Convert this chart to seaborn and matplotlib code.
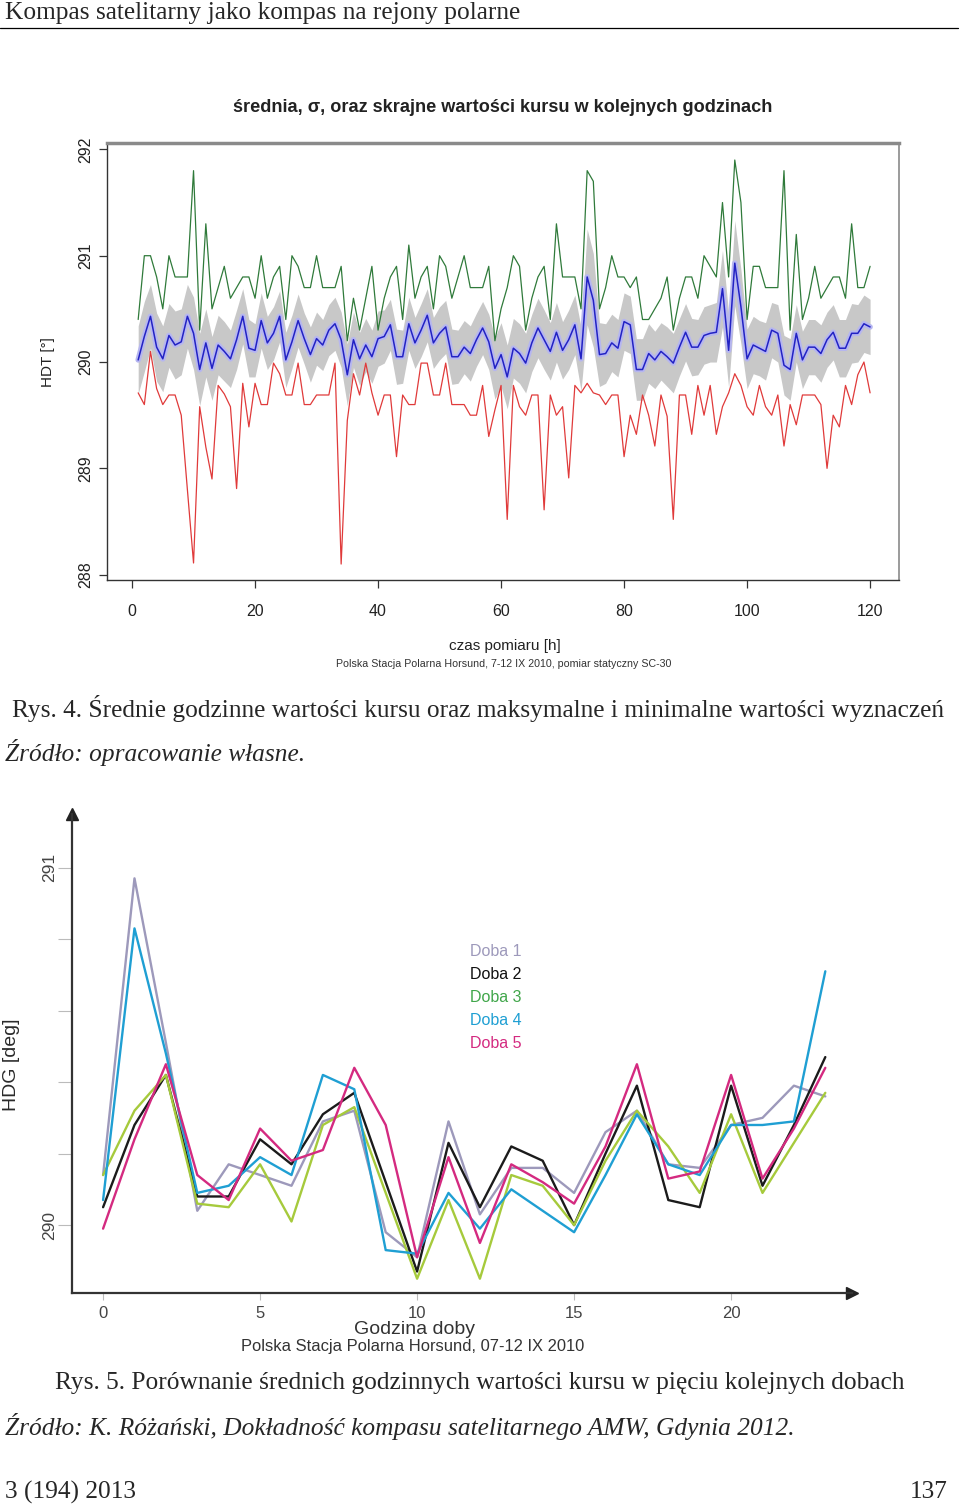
import numpy as np
import pandas as pd
import matplotlib
matplotlib.use("Agg")
import matplotlib.pyplot as plt
import seaborn as sns

W, H = 960, 1506

# --- Rys. 4: godzinne statystyki kursu (HDT) ---
hours = list(range(1, 121))
hdt_max = [
    290.4, 291.0, 291.0, 290.8, 290.5, 291.0, 290.8, 290.8, 290.8, 291.8,
    290.3, 291.3, 290.5, 290.7, 290.9, 290.6, 290.7, 290.8, 290.8, 290.6,
    291.0, 290.6, 290.8, 290.9, 290.4, 291.0, 290.9, 290.7, 290.7, 291.0,
    290.7, 290.7, 290.7, 290.9, 290.2, 290.6, 290.3, 290.6, 290.9, 290.3,
    290.6, 290.8, 290.9, 290.4, 291.1, 290.6, 290.8, 290.9, 290.5, 291.0,
    290.9, 290.6, 290.8, 291.0, 290.7, 290.7, 290.7, 290.9, 290.2, 290.5,
    290.7, 291.0, 290.9, 290.3, 290.6, 290.8, 290.9, 290.4, 291.3, 290.8,
    290.8, 290.8, 290.5, 291.8, 291.7, 290.5, 290.7, 291.0, 290.8, 290.8,
    290.7, 290.8, 290.4, 290.4, 290.5, 290.6, 290.8, 290.3, 290.6, 290.8,
    290.8, 290.6, 291.0, 290.9, 290.8, 291.5, 290.8, 291.9, 291.5, 290.4,
    290.9, 290.9, 290.7, 290.7, 290.7, 291.8, 290.3, 291.2, 290.4, 290.6,
    290.9, 290.6, 290.7, 290.8, 290.8, 290.6, 291.3, 290.7, 290.7, 290.9,
]
hdt_mean = [
    290.02, 290.24, 290.43, 290.14, 290.03, 290.25, 290.16, 290.19, 290.43, 290.27,
    289.93, 290.18, 289.94, 290.16, 290.10, 290.03, 290.21, 290.43, 290.13, 290.11,
    290.39, 290.18, 290.27, 290.43, 290.02, 290.19, 290.39, 290.22, 290.07, 290.22,
    290.16, 290.30, 290.36, 290.21, 289.88, 290.21, 290.03, 290.16, 290.05, 290.22,
    290.24, 290.35, 290.05, 290.05, 290.36, 290.18, 290.30, 290.44, 290.18, 290.27,
    290.33, 290.05, 290.05, 290.14, 290.08, 290.21, 290.32, 290.19, 289.94, 290.07,
    289.86, 290.13, 290.08, 289.99, 290.18, 290.32, 290.21, 290.10, 290.28, 290.11,
    290.21, 290.35, 290.03, 290.80, 290.58, 290.07, 290.08, 290.18, 290.13, 290.38,
    290.35, 289.93, 289.93, 290.08, 290.02, 290.10, 290.05, 289.99, 290.14, 290.28,
    290.14, 290.14, 290.25, 290.27, 290.28, 290.69, 290.11, 290.93, 290.52, 290.03,
    290.16, 290.13, 290.10, 290.30, 290.27, 289.97, 289.93, 290.27, 290.02, 290.14,
    290.14, 290.08, 290.21, 290.28, 290.13, 290.13, 290.27, 290.27, 290.36, 290.33,
]
hdt_min = [
    289.71, 289.60, 290.10, 289.75, 289.60, 289.69, 289.69, 289.50, 288.80, 288.11,
    289.58, 289.20, 288.90, 289.78, 289.70, 289.58, 288.81, 289.80, 289.39, 289.80,
    289.60, 289.60, 289.99, 289.89, 289.69, 289.69, 289.99, 289.60, 289.60, 289.69,
    289.69, 289.69, 289.99, 288.10, 289.45, 289.89, 289.69, 289.99, 289.71, 289.50,
    289.69, 289.69, 289.11, 289.69, 289.60, 289.60, 289.99, 289.99, 289.69, 289.69,
    289.99, 289.60, 289.60, 289.60, 289.50, 289.50, 289.78, 289.30, 289.55, 289.78,
    288.52, 289.78, 289.58, 289.50, 289.69, 289.69, 288.61, 289.69, 289.50, 289.58,
    288.91, 289.78, 289.71, 289.80, 289.71, 289.69, 289.60, 289.69, 289.69, 289.11,
    289.50, 289.32, 289.69, 289.50, 289.21, 289.69, 289.49, 288.52, 289.69, 289.69,
    289.32, 289.78, 289.50, 289.78, 289.32, 289.58, 289.71, 289.89, 289.78, 289.58,
    289.50, 289.78, 289.58, 289.50, 289.69, 289.21, 289.60, 289.41, 289.69, 289.69,
    289.69, 289.60, 289.00, 289.50, 289.39, 289.78, 289.60, 289.88, 290.00, 289.71,
]
hdt_sd = [
    0.32, 0.33, 0.30, 0.32, 0.31, 0.30, 0.32, 0.31, 0.30, 0.34,
    0.34, 0.32, 0.30, 0.28, 0.28, 0.27, 0.28, 0.26, 0.27, 0.25,
    0.26, 0.25, 0.25, 0.24, 0.26, 0.25, 0.25, 0.24, 0.26, 0.25,
    0.24, 0.24, 0.25, 0.26, 0.29, 0.26, 0.25, 0.25, 0.25, 0.26,
    0.25, 0.24, 0.26, 0.25, 0.25, 0.24, 0.25, 0.25, 0.24, 0.25,
    0.25, 0.26, 0.25, 0.25, 0.26, 0.25, 0.25, 0.26, 0.29, 0.30,
    0.30, 0.28, 0.28, 0.28, 0.27, 0.28, 0.28, 0.27, 0.28, 0.27,
    0.28, 0.28, 0.30, 0.45, 0.44, 0.30, 0.28, 0.27, 0.27, 0.27,
    0.27, 0.29, 0.29, 0.28, 0.27, 0.27, 0.28, 0.28, 0.27, 0.27,
    0.27, 0.26, 0.27, 0.27, 0.28, 0.36, 0.35, 0.40, 0.35, 0.28,
    0.27, 0.26, 0.27, 0.26, 0.27, 0.28, 0.29, 0.27, 0.27, 0.26,
    0.26, 0.27, 0.26, 0.26, 0.27, 0.27, 0.28, 0.27, 0.27, 0.26,
]

# --- Rys. 5: średnie godzinne w kolejnych dobach ---
godziny = list(range(24))
doba_1 = [290.14, 290.97, 290.51, 290.04, 290.17, 290.14, 290.11, 290.29, 290.32, 289.98, 289.91, 290.29,
          290.03, 290.16, 290.16, 290.09, 290.26, 290.32, 290.17, 290.16, 290.28, 290.30, 290.39, 290.36]
doba_2 = [290.05, 290.28, 290.42, 290.08, 290.08, 290.24, 290.17, 290.31, 290.37, 290.12, 289.87, 290.23,
          290.05, 290.22, 290.18, 290.00, 290.20, 290.39, 290.07, 290.05, 290.39, 290.11, 290.28, 290.47]
doba_3 = [290.14, 290.32, 290.42, 290.06, 290.05, 290.17, 290.01, 290.28, 290.33, 290.09, 289.85, 290.07,
          289.85, 290.14, 290.11, 290.00, 290.18, 290.32, 290.22, 290.09, 290.31, 290.09, 290.23, 290.37]
doba_4 = [290.07, 290.83, 290.48, 290.09, 290.11, 290.19, 290.14, 290.42, 290.38, 289.93, 289.92, 290.09,
          289.99, 290.10, 290.04, 289.98, 290.14, 290.31, 290.17, 290.14, 290.28, 290.28, 290.29, 290.71]
doba_5 = [289.99, 290.24, 290.45, 290.14, 290.07, 290.27, 290.18, 290.21, 290.44, 290.28, 289.91, 290.19,
          289.95, 290.17, 290.12, 290.06, 290.22, 290.45, 290.13, 290.15, 290.42, 290.13, 290.27, 290.44]
doby = ["Doba 1", "Doba 2", "Doba 3", "Doba 4", "Doba 5"]
kolory_linii = ["#9d99bb", "#1b1b1b", "#a6ca3c", "#1f9fd3", "#d42a80"]
kolory_legendy = ["#9d99bb", "#111111", "#40a64a", "#1f9fd3", "#d42a80"]


def fx(x):
    return x / W


def fy(y):
    return 1 - y / H


sns.set_style("white")
plt.rcParams["font.family"] = ["Liberation Sans", "DejaVu Sans"]
SERIF = ["Liberation Serif", "DejaVu Serif"]
FS_PAGE = 18.3

fig = plt.figure(figsize=(W / 100, H / 100), dpi=100)

# naglowek strony
fig.text(fx(5), fy(13), "Kompas satelitarny jako kompas na rejony polarne",
         family=SERIF, fontsize=FS_PAGE, ha="left", va="center")
fig.add_artist(plt.Line2D([0, fx(958)], [fy(28), fy(28)], color="black", lw=0.9))

# ---------------- wykres gorny ----------------
ax1 = fig.add_axes([fx(107), fy(580), (899 - 107) / W, (580 - 143) / H])
mean_arr = np.array(hdt_mean)
sd_arr = np.array(hdt_sd)
ax1.fill_between(hours, mean_arr - sd_arr, mean_arr + sd_arr, color="#c8c8c8", lw=0)
sns.lineplot(x=hours, y=hdt_mean, color="#b6b6f0", lw=4, ax=ax1)
sns.lineplot(x=hours, y=hdt_mean, color="#2222c4", lw=1.1, ax=ax1)
sns.lineplot(x=hours, y=hdt_max, color="#2f7a3a", lw=0.9, ax=ax1)
sns.lineplot(x=hours, y=hdt_min, color="#e03a3a", lw=0.9, ax=ax1)
ax1.set_xlim(-4.07, 124.7)
ax1.set_ylim(287.95, 292.06)
ax1.set_xticks(range(0, 121, 20))
ax1.set_yticks([288, 289, 290, 291, 292])
ax1.set_yticklabels(["288", "289", "290", "291", "292"], rotation=90, va="center")
ax1.set_xticklabels([str(v) for v in range(0, 121, 20)])
ax1.tick_params(axis="both", direction="out", length=6, width=0.9, color="#333333",
                labelsize=11.5, labelcolor="#222222", left=True, bottom=True)
ax1.tick_params(axis="x", pad=11)
ax1.tick_params(axis="y", pad=4)
ax1.set_xlabel("")
ax1.set_ylabel("")
for side in ["top", "right"]:
    ax1.spines[side].set_color("#8a8a8a")
ax1.spines["top"].set_linewidth(2.5)
ax1.spines["right"].set_linewidth(1.2)
for side in ["left", "bottom"]:
    ax1.spines[side].set_color("#333333")
    ax1.spines[side].set_linewidth(1)

fig.text(fx(503), fy(107), "średnia, σ, oraz skrajne wartości kursu w kolejnych godzinach",
         fontsize=13.1, fontweight="bold", ha="center", va="center", color="#222222")
fig.text(fx(48), fy(362), "HDT [°]", rotation=90, fontsize=11, ha="center", va="center",
         color="#222222")
fig.text(fx(505), fy(646), "czas pomiaru [h]", fontsize=11, ha="center", va="center",
         color="#222222")
fig.text(fx(504), fy(664), "Polska Stacja Polarna Horsund, 7-12 IX 2010, pomiar statyczny SC-30",
         fontsize=7.7, ha="center", va="center", color="#333333")

fig.text(fx(12), fy(708),
         "Rys. 4. Średnie godzinne wartości kursu oraz maksymalne i minimalne wartości wyznaczeń",
         family=SERIF, fontsize=FS_PAGE, ha="left", va="center")
fig.text(fx(5), fy(752), "Źródło: opracowanie własne.", family=SERIF, style="italic",
         fontsize=FS_PAGE, ha="left", va="center")

# ---------------- wykres dolny ----------------
ax2 = fig.add_axes([fx(72), fy(1293), (852 - 72) / W, (1293 - 814) / H])
df = pd.DataFrame({
    "godzina": godziny * 5,
    "hdg": doba_1 + doba_2 + doba_3 + doba_4 + doba_5,
    "doba": [d for d in doby for _ in godziny],
})
sns.lineplot(data=df, x="godzina", y="hdg", hue="doba", hue_order=doby,
             palette=dict(zip(doby, kolory_linii)), lw=1.7, ax=ax2, legend=False)
ax2.set_xlim(-0.99, 23.85)
ax2.set_ylim(289.81, 291.15)
ax2.set_xlabel("")
ax2.set_ylabel("")
ax2.spines["top"].set_visible(False)
ax2.spines["right"].set_visible(False)
for side in ["left", "bottom"]:
    ax2.spines[side].set_color("#333333")
    ax2.spines[side].set_linewidth(1.6)
ax2.plot(1, 0, ">", color="#222222", ms=8, transform=ax2.transAxes, clip_on=False)
ax2.plot(0, 1, "^", color="#222222", ms=8, transform=ax2.transAxes, clip_on=False)

ax2.set_xticks([0, 5, 10, 15, 20])
ax2.set_xticklabels(["0", "5", "10", "15", "20"])
yt = [290.0, 290.2, 290.4, 290.6, 290.8, 291.0]
ax2.set_yticks(yt)
ax2.set_yticklabels(["290", "", "", "", "", "291"], rotation=90, va="center")
ax2.tick_params(axis="both", direction="out", color="#bbbbbb", width=0.8,
                labelsize=12, labelcolor="#444444", left=True, bottom=True)
ax2.tick_params(axis="y", length=10, pad=1, labelsize=12.5)
ax2.tick_params(axis="x", length=5, pad=4)

lines = ax2.get_lines()[:5]
leg = fig.legend(lines, doby, loc="upper left", bbox_to_anchor=(fx(470), fy(944)),
                 handlelength=0, handletextpad=0, frameon=False, fontsize=11.5,
                 labelspacing=0.5, borderaxespad=0, borderpad=0)
for txt, kol in zip(leg.get_texts(), kolory_legendy):
    txt.set_color(kol)
for h in leg.legend_handles:
    h.set_visible(False)

fig.text(fx(12), fy(1065), "HDG [deg]", rotation=90, fontsize=14, ha="center", va="center",
         color="#2a2a2a")
fig.text(fx(415), fy(1329), "Godzina doby", fontsize=14, ha="center", va="center", color="#333333")
fig.text(fx(413), fy(1347), "Polska Stacja Polarna Horsund, 07-12 IX 2010", fontsize=11.9,
         ha="center", va="center", color="#333333")

fig.text(fx(55), fy(1383),
         "Rys. 5. Porównanie średnich godzinnych wartości kursu w pięciu kolejnych dobach",
         family=SERIF, fontsize=FS_PAGE, ha="left", va="center")
fig.text(fx(5), fy(1427),
         "Źródło: K. Różański, Dokładność kompasu satelitarnego AMW, Gdynia 2012.",
         family=SERIF, style="italic", fontsize=FS_PAGE, ha="left", va="center")

fig.text(fx(5), fy(1492), "3 (194) 2013", family=SERIF, fontsize=FS_PAGE, ha="left", va="center")
fig.text(fx(948), fy(1492), "137", family=SERIF, fontsize=FS_PAGE, ha="right", va="center")

fig.savefig("out.png", dpi=100)
